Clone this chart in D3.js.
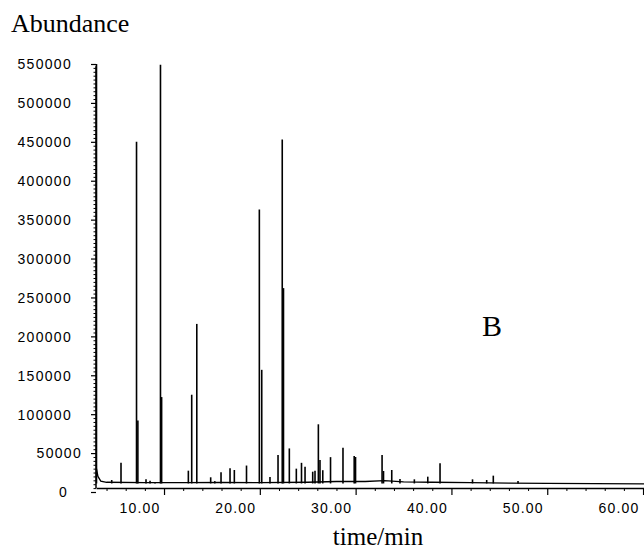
<!DOCTYPE html>
<html><head><meta charset="utf-8">
<script src="https://cdn.jsdelivr.net/npm/d3@7"></script>
<style>html,body{margin:0;padding:0;background:#fff;} svg{display:block}</style>
</head><body>
<svg id="chart" width="644" height="552"></svg>
<script>
// ---- data (time in min, abundance) ----
const peakTimes   = [2.95, 4.54, 5.51, 7.13, 7.27, 8.12, 8.54, 9.06, 9.63, 9.75,
                     12.54, 12.89, 13.42, 14.87, 15.3, 15.95, 16.89, 17.34, 18.61,
                     19.95, 20.2, 21.06, 21.9, 22.34, 22.47, 23.08, 23.81, 24.35, 24.72,
                     25.52, 25.76, 26.11, 26.28, 26.57, 27.38, 28.68, 29.85, 29.99, 32.76,
                     32.91, 33.77, 34.63, 36.13, 37.53, 38.81, 42.2, 43.68, 44.37, 46.95];
const peakHeights = [550000, 15400, 37500, 450000, 92000, 16300, 14500, 12800, 549000, 122000,
                     27400, 125000, 216000, 18900, 14000, 25300, 30400, 28300, 34000,
                     363000, 157000, 19300, 47600, 453000, 262000, 56000, 30000, 37500, 32500,
                     26100, 27400, 87000, 41000, 28000, 44800, 57000, 46300, 45000, 47600,
                     27000, 28300, 16700, 16300, 19700, 37000, 16300, 15400, 21000, 14000];
const baselineTimes  = [2.95, 3.1, 3.4, 4.0, 8.0, 12.0, 16.0, 20.0, 25.0, 28.0, 31.0, 33.0, 35.0, 38.0, 42.0, 46.0, 50.0, 55.0, 60.1];
const baselineValues = [30000, 20000, 14000, 12500, 12000, 12000, 12200, 12000, 12500, 13500, 13500, 14500, 13000, 12500, 12000, 11500, 11000, 10800, 10500];
const peakFoot = 11000;

const xMajorTicks = [10, 20, 30, 40, 50, 60];
const xTickLabels = ["10.00", "20.00", "30.00", "40.00", "50.00", "60.00"];
const xMinorTicks = [4, 6, 8, 12, 14, 16, 18, 22, 24, 26, 28, 32, 34, 36, 38, 42, 44, 46, 48, 52, 54, 56, 58];
const yMajorTicks = [0, 50000, 100000, 150000, 200000, 250000, 300000, 350000, 400000, 450000, 500000, 550000];
const yTickLabels = ["0", "50000", "100000", "150000", "200000", "250000", "300000", "350000", "400000", "450000", "500000", "550000"];

const svg = d3.select("#chart");
const x = d3.scaleLinear().domain([2.9, 60.1]).range([96, 644]);
const y = d3.scaleLinear().domain([0, 550000]).range([492, 64]);
const axisY = y(0) - 4;

// minor y ticks
const yMinor = d3.range(0, 550001, 5000).filter(v => v % 50000 !== 0);
svg.append("g").attr("transform", `translate(96,0)`)
  .call(d3.axisLeft(y).tickValues(yMinor).tickSize(2.5).tickFormat(""))
  .call(g => g.select(".domain").remove())
  .call(g => g.selectAll("line").attr("stroke", "#000").attr("stroke-width", 1));

// major y ticks + labels
const yAx = svg.append("g").attr("transform", `translate(96,0)`)
  .call(d3.axisLeft(y).tickValues(yMajorTicks).tickSize(5)
        .tickFormat((d, i) => yTickLabels[i]))
  .call(g => g.select(".domain").remove());
yAx.selectAll("line").attr("stroke", "#000").attr("stroke-width", 1.2);
yAx.selectAll("text")
  .attr("font-family", "'Liberation Sans', Arial, sans-serif")
  .attr("font-size", 14).attr("letter-spacing", 1.3).attr("fill", "#000")
  .attr("text-anchor", "end")
  .attr("x", d => d === 50000 ? -14 : (d === 0 ? -28 : -24))
  .attr("dy", "0.35em");

// y axis line
svg.append("line").attr("x1", 96).attr("x2", 96)
  .attr("y1", axisY).attr("y2", y(547000))
  .attr("stroke", "#000").attr("stroke-width", 1.5);

// x axis
svg.append("g").attr("transform", `translate(0,${axisY})`)
  .call(d3.axisBottom(x).tickValues(xMinorTicks).tickSize(3).tickFormat(""))
  .call(g => g.select(".domain").remove())
  .call(g => g.selectAll("line").attr("stroke", "#000"));
const xAx = svg.append("g").attr("transform", `translate(0,${axisY})`)
  .call(d3.axisBottom(x).tickValues(xMajorTicks).tickSize(7).tickSizeOuter(0)
        .tickFormat((d, i) => xTickLabels[i]));
xAx.select(".domain").attr("stroke", "#000").attr("stroke-width", 1.3);
xAx.selectAll("line").attr("stroke", "#000").attr("stroke-width", 1.2);
xAx.selectAll("text")
  .attr("font-family", "'Liberation Sans', Arial, sans-serif")
  .attr("font-size", 14).attr("letter-spacing", 1.2).attr("fill", "#000")
  .attr("text-anchor", "end").attr("x", -4).attr("y", 15).attr("dy", "0.71em");

// baseline trace
const line = d3.line().x(d => x(d[0])).y(d => y(d[1]));
svg.append("path")
  .datum(baselineTimes.map((t, i) => [t, baselineValues[i]]))
  .attr("d", line).attr("fill", "none").attr("stroke", "#000").attr("stroke-width", 1.3);

// peaks
svg.append("g").selectAll("path")
  .data(peakTimes.map((t, i) => [t, peakHeights[i]]))
  .join("path")
  .attr("d", d => line([[d[0], peakFoot], [d[0], d[1]]]))
  .attr("fill", "none").attr("stroke", "#000").attr("stroke-width", 1.6);

// texts
svg.append("text").attr("x", 11).attr("y", 32)
  .attr("font-family", "'Liberation Serif', 'Times New Roman', serif")
  .attr("font-size", 26).attr("fill", "#000").text("Abundance");
svg.append("text").attr("x", 378).attr("y", 545).attr("text-anchor", "middle")
  .attr("font-family", "'Liberation Serif', 'Times New Roman', serif")
  .attr("font-size", 25).attr("fill", "#000").text("time/min");
svg.append("text").attr("x", 492).attr("y", 336).attr("text-anchor", "middle")
  .attr("font-family", "'Liberation Serif', 'Times New Roman', serif")
  .attr("font-size", 30).attr("fill", "#000").text("B");
</script>
</body></html>
